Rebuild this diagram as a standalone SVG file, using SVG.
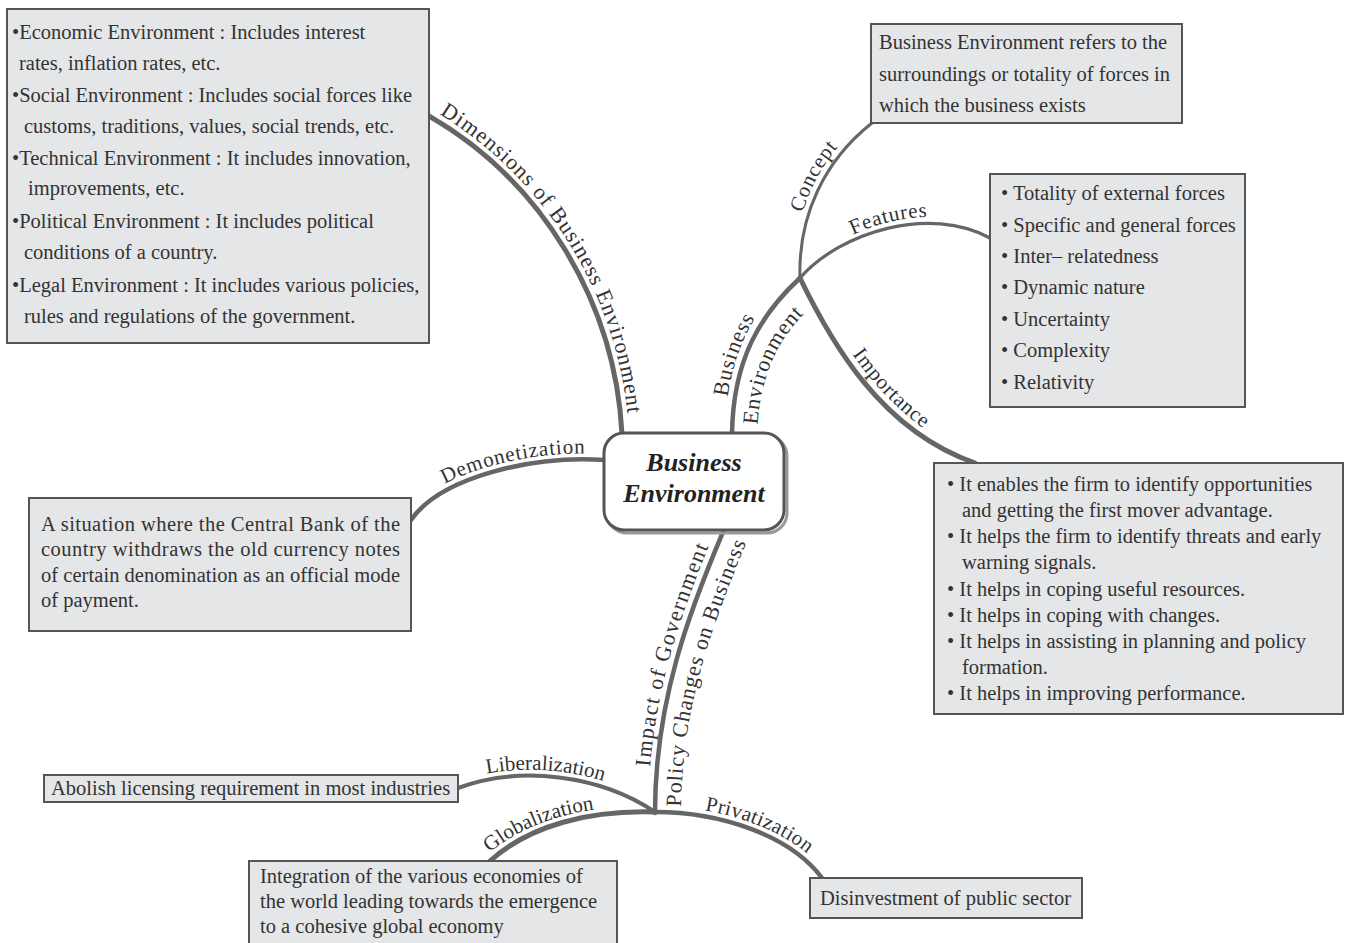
<svg xmlns="http://www.w3.org/2000/svg" width="1351" height="943" viewBox="0 0 1351 943">
<style>
.box{fill:#e4e6e8;stroke:#555;stroke-width:2}
.t{font-family:"Liberation Serif","Times New Roman",serif;font-size:20.5px;fill:#333}
.lbl{font-family:"Liberation Serif","Times New Roman",serif;font-size:21px;fill:#333;letter-spacing:0.8px}
.c{fill:none;stroke:#666;stroke-linecap:round}
.core{font-family:"Liberation Serif","Times New Roman",serif;font-size:26px;font-weight:bold;font-style:italic;fill:#222}
</style>
<defs>
<path id="p-dim" d="M 432.5 110 C 544 175, 622 297, 629 434"/>
<path id="p-bus" d="M 725 432 C 726 358, 753 309, 793 272"/>
<path id="p-env" d="M 757 440 C 758 370, 782 331, 820 299"/>
<path id="p-con" d="M 794 278 C 792 213, 820 155, 868 118"/>
<path id="p-fea" d="M 803 271 C 842 226, 930 199, 992 231"/>
<path id="p-imp" d="M 806 275 C 837 336, 887 425, 977 456"/>
<path id="p-dem" d="M 406 515 C 437 472, 530 449, 605 454"/>
<path id="p-gov" d="M 648 813 C 648 700, 683 607, 716 529"/>
<path id="p-pol" d="M 681 813 C 681 705, 714 621, 747 541"/>
<path id="p-lib" d="M 456 782 C 519 759, 602 769, 658 807"/>
<path id="p-glo" d="M 486 856 C 526 820, 588 804, 655 806"/>
<path id="p-pri" d="M 655 806 C 721 806, 794 830, 827 874"/>
</defs>
<rect width="1351" height="943" fill="#fff"/>

<g id="connectors">
<path class="c" stroke-width="5" d="M 429 116 C 540 180, 615 300, 622 434"/>
<path class="c" stroke-width="4.5" d="M 732 434 C 733 360, 760 315, 800 278"/>
<path class="c" stroke-width="3" d="M 800 278 C 798 215, 825 160, 872 123"/>
<path class="c" stroke-width="3.2" d="M 800 278 C 840 232, 930 205, 990 238"/>
<path class="c" stroke-width="5" d="M 800 278 C 830 340, 880 430, 975 463"/>
<path class="c" stroke-width="4.5" d="M 411 520 C 440 478, 530 455, 605 460"/>
<path class="c" stroke-width="4.5" d="M 723 532 C 690 610, 655 700, 655 813"/>
<path class="c" stroke-width="4" d="M 655 812 C 600 775, 520 765, 458 788"/>
<path class="c" stroke-width="5" d="M 490 861 C 530 825, 590 810, 655 812"/>
<path class="c" stroke-width="4.5" d="M 655 812 C 720 812, 790 835, 822 878"/>
</g>

<g id="labels">
<text class="lbl" style="font-size:22px;letter-spacing:1px"><textPath href="#p-dim" startOffset="8">Dimensions of Business Environment</textPath></text>
<text class="lbl" style="font-size:22px"><textPath href="#p-bus" startOffset="35">Business</textPath></text>
<text class="lbl" style="font-size:22px"><textPath href="#p-env" startOffset="15">Environment</textPath></text>
<text class="lbl"><textPath href="#p-con" startOffset="66">Concept</textPath></text>
<text class="lbl"><textPath href="#p-fea" startOffset="62">Features</textPath></text>
<text class="lbl"><textPath href="#p-imp" startOffset="92">Importance</textPath></text>
<text class="lbl"><textPath href="#p-dem" startOffset="50">Demonetization</textPath></text>
<text class="lbl" style="font-size:22px;letter-spacing:1.5px"><textPath href="#p-gov" startOffset="46">Impact of Government</textPath></text>
<text class="lbl" style="font-size:22px;letter-spacing:1px"><textPath href="#p-pol" startOffset="6">Policy Changes on Business</textPath></text>
<text class="lbl" style="letter-spacing:0"><textPath href="#p-lib" startOffset="32">Liberalization</textPath></text>
<text class="lbl" style="letter-spacing:0"><textPath href="#p-glo" startOffset="5">Globalization</textPath></text>
<text class="lbl" style="letter-spacing:0.4px"><textPath href="#p-pri" startOffset="50">Privatization</textPath></text>
</g>

<g id="node-core">
<rect x="607" y="436" width="180" height="97" rx="20" fill="none" stroke="#999" stroke-width="3"/>
<rect x="604" y="433" width="180" height="97" rx="20" fill="#fff" stroke="#555" stroke-width="3"/>
<text class="core" x="694" y="471" text-anchor="middle">Business</text>
<text class="core" x="694" y="502" text-anchor="middle">Environment</text>
</g>

<g id="node-dimensions">
<rect class="box" x="7" y="9" width="422" height="334"/>
<text class="t" x="12" y="39">•Economic Environment : Includes interest</text>
<text class="t" x="19" y="70">rates, inflation rates, etc.</text>
<text class="t" x="12" y="102">•Social Environment : Includes social forces like</text>
<text class="t" x="24" y="133">customs, traditions, values, social trends, etc.</text>
<text class="t" x="12" y="165">•Technical Environment : It includes innovation,</text>
<text class="t" x="28" y="195">improvements, etc.</text>
<text class="t" x="12" y="228">•Political Environment : It includes political</text>
<text class="t" x="24" y="259">conditions of a country.</text>
<text class="t" x="12" y="292">•Legal Environment : It includes various policies,</text>
<text class="t" x="24" y="323">rules and regulations of the government.</text>
</g>

<g id="node-concept">
<rect class="box" x="871" y="24" width="311" height="99"/>
<text class="t" x="879" y="49">Business Environment refers to the</text>
<text class="t" x="879" y="81">surroundings or totality of forces in</text>
<text class="t" x="879" y="112">which the business exists</text>
</g>

<g id="node-features">
<rect class="box" x="990" y="174" width="255" height="233"/>
<text class="t" x="1001" y="200">• Totality of external forces</text>
<text class="t" x="1001" y="232">• Specific and general forces</text>
<text class="t" x="1001" y="263">• Inter– relatedness</text>
<text class="t" x="1001" y="294">• Dynamic nature</text>
<text class="t" x="1001" y="326">• Uncertainty</text>
<text class="t" x="1001" y="357">• Complexity</text>
<text class="t" x="1001" y="389">• Relativity</text>
</g>

<g id="node-importance">
<rect class="box" x="934" y="463" width="409" height="251"/>
<text class="t" x="947" y="491">• It enables the firm to identify opportunities</text>
<text class="t" x="962" y="517">and getting the first mover advantage.</text>
<text class="t" x="947" y="543">• It helps the firm to identify threats and early</text>
<text class="t" x="962" y="569">warning signals.</text>
<text class="t" x="947" y="596">• It helps in coping useful resources.</text>
<text class="t" x="947" y="622">• It helps in coping with changes.</text>
<text class="t" x="947" y="648">• It helps in assisting in planning and policy</text>
<text class="t" x="962" y="674">formation.</text>
<text class="t" x="947" y="700">• It helps in improving performance.</text>
</g>

<g id="node-demonetization">
<rect class="box" x="29" y="498" width="382" height="133"/>
<text class="t" x="41" y="531" textLength="359" lengthAdjust="spacing">A situation where the Central Bank of the</text>
<text class="t" x="41" y="556" textLength="359" lengthAdjust="spacing">country withdraws the old currency notes</text>
<text class="t" x="41" y="582" textLength="359" lengthAdjust="spacing">of certain denomination as an official mode</text>
<text class="t" x="41" y="607">of payment.</text>
</g>

<g id="node-liberalization">
<rect class="box" x="44" y="775" width="414" height="27"/>
<text class="t" x="51" y="795">Abolish licensing requirement in most industries</text>
</g>

<g id="node-globalization">
<rect class="box" x="249" y="861" width="368" height="84"/>
<text class="t" x="260" y="883">Integration of the various economies of</text>
<text class="t" x="260" y="908">the world leading towards the emergence</text>
<text class="t" x="260" y="933">to a cohesive global economy</text>
</g>

<g id="node-privatization">
<rect class="box" x="810" y="878" width="272" height="40"/>
<text class="t" x="820" y="905">Disinvestment of public sector</text>
</g>
</svg>
